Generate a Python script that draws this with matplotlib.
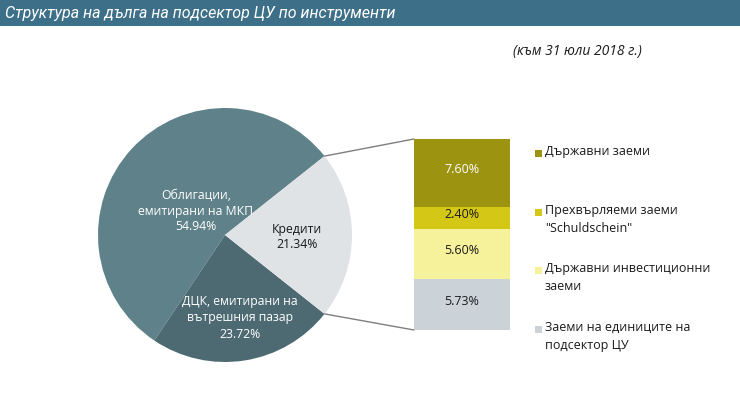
import matplotlib
matplotlib.use("Agg")
import matplotlib.pyplot as plt
from matplotlib.patches import ConnectionPatch, Rectangle
import numpy as np

plt.rcParams['font.family'] = ['Open Sans', 'DejaVu Sans']

# ---- data ----
pie_labels = ["Кредити", "Облигации,\nемитирани на МКП", "ДЦК, емитирани на\nвътрешния пазар"]
pie_values = [21.34, 54.94, 23.72]
pie_colors = ["#dfe3e6", "#5f8189", "#4d6a73"]
pie_text_colors = ["#1a1a1a", "white", "white"]

bar_labels = ["Заеми на единиците на\nподсектор ЦУ", "Държавни инвестиционни\nзаеми",
              "Прехвърляеми заеми\n\"Schuldschein\"", "Държавни заеми"]
bar_values = [5.73, 5.60, 2.40, 7.60]
bar_colors = ["#cbd3d9", "#f6f19b", "#d4c716", "#9c9411"]
bar_text_colors = ["#1a1a1a", "#1a1a1a", "#1a1a1a", "white"]

title = "Структура на дълга на подсектор ЦУ по инструменти"
subtitle = "(към 31 юли 2018 г.)"

W, H = 740, 393
fig = plt.figure(figsize=(W / 100, H / 100), dpi=100)
fig.patch.set_facecolor("white")

def fx(px):
    return px / W

def fy(py):
    return 1 - py / H

# title bar
fig.patches.append(Rectangle((0, fy(26)), 1, 26 / H, transform=fig.transFigure,
                             facecolor="#3d7088", edgecolor="none", zorder=0))
fig.text(fx(5), fy(13.5), title, color="white", fontsize=11.5, style="italic",
         va="center", ha="left", family=["Roboto", "DejaVu Sans"])
fig.text(fx(577), fy(52), subtitle, color="#1a1a1a", fontsize=10, style="italic",
         va="center", ha="center")

# pie
cx, cy, r = 225, 235, 127
axp = fig.add_axes([fx(cx - r), fy(cy + r), 2 * r / W, 2 * r / H])
half = pie_values[0] / 100 * 360 / 2
wedges, _ = axp.pie(pie_values, colors=pie_colors, startangle=-half,
                    counterclock=True, radius=1, wedgeprops=dict(linewidth=0))
wedges[0].set_zorder(5)
axp.set_xlim(-1, 1)
axp.set_ylim(-1, 1)
axp.set_aspect("equal")
axp.axis("off")

pie_label_pos = [(297, 237), (196, 211), (240, 318)]
pie_label_z = [6, 4, 4]
to_data = axp.transData.inverted()
for lab, val, col, (px, py), z in zip(pie_labels, pie_values, pie_text_colors,
                                      pie_label_pos, pie_label_z):
    dx, dy = to_data.transform(fig.transFigure.transform((fx(px), fy(py))))
    axp.text(dx, dy, f"{lab}\n{val:.2f}%", color=col, fontsize=8.8,
             ha="center", va="center", linespacing=1.3, zorder=z)

# stacked bar
bx0, bx1, by0, by1 = 414, 510, 139, 330
axb = fig.add_axes([fx(bx0), fy(by1), (bx1 - bx0) / W, (by1 - by0) / H])
bottom = 0
for val, col, tcol in zip(bar_values, bar_colors, bar_text_colors):
    axb.bar(0, val, bottom=bottom, width=1, color=col, linewidth=0)
    axb.text(0, bottom + val / 2 + 0.35, f"{val:.2f}%", color=tcol, fontsize=9,
             ha="center", va="center")
    bottom += val
axb.set_xlim(-0.5, 0.5)
axb.set_ylim(0, bottom)
axb.axis("off")

# connection lines
th1 = np.deg2rad(half)
th2 = np.deg2rad(-half)
for th, yb in [(th1, bottom), (th2, 0)]:
    con = ConnectionPatch(xyA=(np.cos(th), np.sin(th)), coordsA=axp.transData,
                          xyB=(-0.5, yb), coordsB=axb.transData,
                          color="#7f7f7f", linewidth=1.0)
    fig.add_artist(con)

# legend (manual, first line aligned with marker)
leg_y = [329, 270, 212, 153]
for lab, col, ly in zip(bar_labels, bar_colors, leg_y):
    fig.patches.append(Rectangle((fx(535), fy(ly + 3.5)), 7 / W, 7 / H,
                                 transform=fig.transFigure, facecolor=col,
                                 edgecolor="none"))
    fig.text(fx(545), fy(ly - 8), lab, color="#1a1a1a", fontsize=9,
             ha="left", va="top", linespacing=1.45)

fig.savefig("out.png", dpi=100)
